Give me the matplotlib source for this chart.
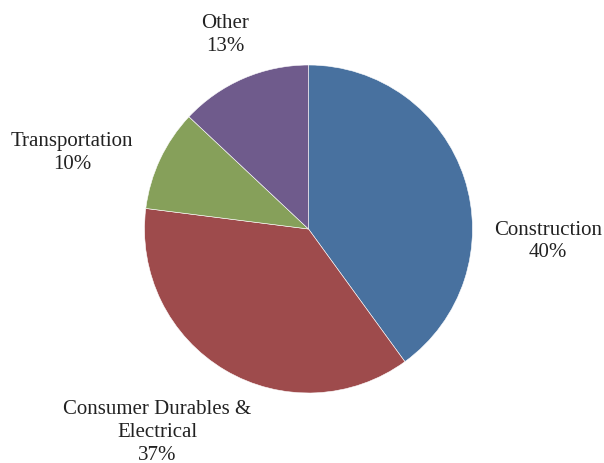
import matplotlib.pyplot as plt

# sector shares, going clockwise from the top
labels = ["Construction", "Consumer Durables &\nElectrical", "Transportation", "Other"]
shares = [40, 37, 10, 13]
colors = ["#48719f", "#9e4b4c", "#86a05a", "#6f5b8c"]

# where each label block sits, in pie-radius units from the centre
label_pos = [(1.46, -0.07), (-0.92, -1.235), (-1.44, 0.47), (-0.51, 1.19)]

plt.rcParams['font.family'] = ['Liberation Serif', 'DejaVu Serif']

fig = plt.figure(figsize=(6.04, 4.64), dpi=100)
ax = fig.add_axes([0, 0, 1, 1])

ax.pie(shares, colors=colors, startangle=90, counterclock=False, radius=1,
       wedgeprops=dict(edgecolor="white", linewidth=0.4))

for lab, val, (x, y) in zip(labels, shares, label_pos):
    ax.text(x, y, "%s\n%d%%" % (lab, val), ha="center", va="center",
            fontsize=15, color="#222222", linespacing=1.28)

scale = 164.0
cx, cy = 308.5, 230.0
ax.set_xlim(-cx / scale, (604 - cx) / scale)
ax.set_ylim(-(464 - cy) / scale, cy / scale)
ax.set_aspect("equal")
ax.axis("off")

fig.savefig("out.png", dpi=100)
